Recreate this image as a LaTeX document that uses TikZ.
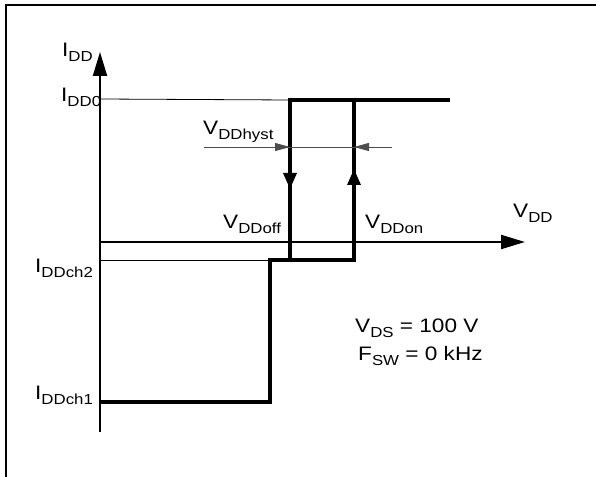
\documentclass[tikz,border=0pt]{standalone}
\usepackage{fontspec}
\setmainfont{Liberation Sans}[FakeStretch=1.16]
\usetikzlibrary{arrows.meta}

% lowered subscript in a smaller size
\newcommand{\lowsub}[1]{\raisebox{-5bp}{\fontsize{14.5bp}{14.5bp}\selectfont #1}}

\begin{document}
\begin{tikzpicture}[
    x=1bp, y=-1bp,
    % Outer frame - heavy black
    frame/.style={
        line width=2bp
    },
    % Axis style - black with big solid tip
    axis/.style={
        line width=2bp,
        -{Triangle[length=24bp, width=14bp]}
    },
    % Supply current trace
    trace/.style={
        line width=3.3bp
    },
    % Thin level lines
    guide/.style={
        line width=0.8bp
    },
    % Direction tips on the trace
    dirtip/.style={
        line width=3.3bp,
        -{Triangle[length=16bp, width=13bp]}
    },
    % Hysteresis dimension line
    hyst/.style={
        line width=0.9bp,
        draw=black!70
    },
    hysttip/.style={
        line width=0.9bp,
        draw=black!70,
        -{Triangle[length=15bp, width=8bp]}
    },
    % Label style
    lbl/.style={
        anchor=base west,
        inner sep=0pt,
        font=\fontsize{19.5bp}{22bp}\selectfont
    }
]
\useasboundingbox (0,0) rectangle (596,477);

% === Frame ===
\draw[frame] (600,5) -- (6,5) -- (6,480);

% === Key points ===
\coordinate (orig) at (100,432);
\coordinate (ytop) at (100,52);
\coordinate (xlft) at (100,242);
\coordinate (xend) at (525,242);
\coordinate (ch1a) at (100,402);
\coordinate (ch1b) at (270,402);
\coordinate (ch2a) at (270,260);
\coordinate (onlo) at (354,260);
\coordinate (onhi) at (354,100);
\coordinate (hiend) at (450,100);
\coordinate (offhi) at (290,100);
\coordinate (offlo) at (290,260);

% === Level lines ===
\draw[guide] (100,99) -- (offhi);
\draw[guide] (100,260) -- (ch2a);

% === Axes ===
\draw[axis] (orig) -- (ytop);
\draw[axis] (xlft) -- (xend);

% === Trace ===
\draw[trace] (ch1a) -- (ch1b) -- (ch2a) -- (onlo) -- (onhi);
\draw[trace] (offlo) -- (offhi) -- (hiend);

% direction tips
\draw[dirtip] (290,168) -- (290,189);
\draw[dirtip] (354,190) -- (354,169);

% === Hysteresis ===
\draw[hyst] (204,147) -- (392,147);
\draw[hysttip] (262,147) -- (290,147);
\draw[hysttip] (382,147) -- (354,147);

% === Labels ===
\node[lbl] (idd) at (62,57) {I\lowsub{DD}};
\node[lbl] (idd0) at (61,102) {I\lowsub{DD0}};
\node[lbl] (iddch2) at (35,272) {I\lowsub{DDch2}};
\node[lbl] (iddch1) at (35,399) {I\lowsub{DDch1}};
\node[lbl] (vhyst) at (203,135) {V\lowsub{DDhyst}};
\node[lbl] (voff) at (223,229) {V\lowsub{DDoff}};
\node[lbl] (von) at (365,229) {V\lowsub{DDon}};
\node[lbl] (vdd) at (513,218) {V\lowsub{DD}};

% === Test conditions ===
\node[lbl] (vds) at (355,332) {V\lowsub{DS} = 100 V};
\node[lbl] (fsw) at (358,360) {F\lowsub{SW} = 0 kHz};

\end{tikzpicture}
\end{document}
